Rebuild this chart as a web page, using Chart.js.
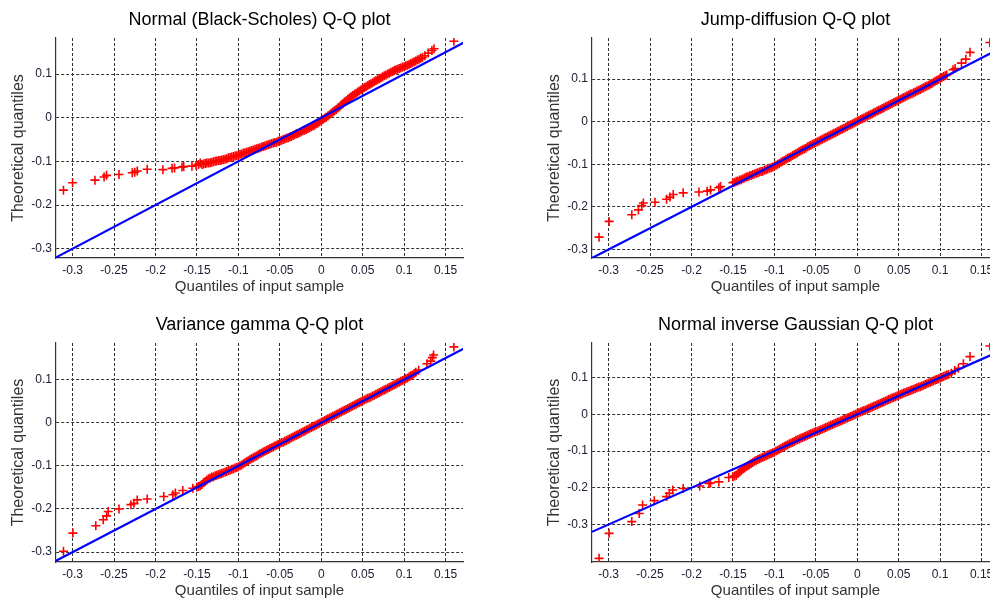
<!DOCTYPE html>
<html>
<head>
<meta charset="utf-8">
<script src="https://cdn.jsdelivr.net/npm/chart.js@4"></script>
<style>
  html, body { margin: 0; padding: 0; background: #fff; }
  #wrap { position: relative; width: 990px; height: 601px; overflow: hidden; }
  canvas { position: absolute; }
</style>
</head>
<body>
<div id="wrap">
  <canvas id="c1" width="495" height="300" style="left:0px;top:0px"></canvas>
  <canvas id="c2" width="495" height="300" style="left:536px;top:0px"></canvas>
  <canvas id="c3" width="495" height="299" style="left:0px;top:305px"></canvas>
  <canvas id="c4" width="495" height="299" style="left:536px;top:305px"></canvas>
</div>
<script>
// tick values shared by all four panels
var xTicks = [-0.3, -0.25, -0.2, -0.15, -0.1, -0.05, 0, 0.05, 0.1, 0.15];
var yTicks = [-0.3, -0.2, -0.1, 0, 0.1];
var xRange = [-0.32, 0.171];
var refLineX = [-0.32, 0.175];
var refLineY = [-0.32, 0.175];

// Normal (Black-Scholes)
var bsSample = [-0.311,-0.300,-0.273,-0.262,-0.259,-0.244,-0.228,-0.225,-0.222,-0.210,-0.191,-0.180,-0.177,-0.168,-0.166,-0.156,-0.151,-0.148,-0.146,
  -0.144,-0.142,-0.140,-0.138,-0.136,-0.134,-0.132,-0.130,-0.128,-0.126,
  -0.124,-0.122,-0.120,-0.118,-0.116,-0.114,-0.112,-0.110,-0.108,-0.106,
  -0.104,-0.102,-0.100,-0.098,-0.096,-0.094,-0.092,-0.090,-0.088,-0.086,
  -0.084,-0.082,-0.080,-0.078,-0.076,-0.074,-0.072,-0.070,-0.068,-0.066,
  -0.064,-0.062,-0.060,-0.058,-0.056,-0.054,-0.052,-0.050,-0.048,-0.046,
  -0.044,-0.042,-0.040,-0.038,-0.036,-0.034,-0.032,-0.030,-0.028,-0.026,
  -0.024,-0.022,-0.020,-0.018,-0.016,-0.014,-0.012,-0.010,-0.008,-0.006,
  -0.004,-0.002,0.000,0.002,0.004,0.006,0.008,0.010,0.012,0.014,
  0.016,0.018,0.020,0.022,0.024,0.026,0.028,0.030,0.032,0.034,
  0.036,0.038,0.040,0.042,0.044,0.046,0.048,0.050,0.052,0.054,
  0.056,0.058,0.060,0.062,0.064,0.066,0.068,0.070,0.072,0.074,
  0.076,0.078,0.080,0.082,0.084,0.086,0.088,0.090,0.092,0.094,
  0.096,0.098,0.100,0.102,0.104,0.106,0.108,0.110,0.112,0.114,
  0.116,0.118,0.120,0.122,
  0.125,0.129,0.1335,0.136,0.160];
var bsTheory = [-0.166,-0.149,-0.143,-0.136,-0.132,-0.130,-0.126,-0.125,-0.122,-0.118,-0.119,-0.116,-0.115,-0.113,-0.112,-0.111,-0.109,-0.107,-0.104,
  -0.107,-0.106,-0.105,-0.104,-0.104,-0.103,-0.102,-0.101,-0.100,-0.099,
  -0.098,-0.098,-0.097,-0.096,-0.095,-0.094,-0.092,-0.091,-0.090,-0.089,
  -0.088,-0.087,-0.086,-0.084,-0.083,-0.081,-0.080,-0.079,-0.078,-0.076,
  -0.075,-0.074,-0.072,-0.071,-0.070,-0.069,-0.067,-0.066,-0.065,-0.063,
  -0.062,-0.061,-0.059,-0.058,-0.057,-0.056,-0.054,-0.053,-0.052,-0.050,
  -0.049,-0.047,-0.046,-0.044,-0.043,-0.041,-0.039,-0.037,-0.036,-0.034,
  -0.032,-0.030,-0.029,-0.027,-0.025,-0.023,-0.021,-0.019,-0.017,-0.014,
  -0.012,-0.009,-0.007,-0.004,-0.001,0.001,0.004,0.007,0.010,0.013,
  0.016,0.019,0.022,0.025,0.029,0.032,0.036,0.039,0.042,0.045,
  0.048,0.051,0.054,0.056,0.059,0.061,0.064,0.066,0.069,0.071,
  0.074,0.076,0.078,0.080,0.083,0.085,0.087,0.089,0.091,0.094,
  0.096,0.098,0.100,0.102,0.104,0.106,0.108,0.110,0.111,0.113,
  0.114,0.116,0.117,0.119,0.120,0.122,0.124,0.126,0.128,0.130,
  0.132,0.134,0.136,0.138,
  0.142,0.148,0.154,0.158,0.175];

// Jump-diffusion
var jdSample = [-0.3115,-0.2994,-0.272,-0.264,-0.260,-0.258,-0.244,-0.230,-0.226,-0.222,-0.210,-0.191,-0.181,-0.177,-0.167,-0.165,
  -0.150,-0.148,-0.146,-0.144,-0.142,-0.140,-0.138,-0.136,-0.134,-0.132,
  -0.130,-0.128,-0.126,-0.124,-0.122,-0.120,-0.118,-0.116,-0.114,-0.112,
  -0.110,-0.108,-0.106,-0.104,-0.102,-0.100,-0.098,-0.096,-0.094,-0.092,
  -0.090,-0.088,-0.086,-0.084,-0.082,-0.080,-0.078,-0.076,-0.074,-0.072,
  -0.070,-0.068,-0.066,-0.064,-0.062,-0.060,-0.058,-0.056,-0.054,-0.052,
  -0.050,-0.048,-0.046,-0.044,-0.042,-0.040,-0.038,-0.036,-0.034,-0.032,
  -0.030,-0.028,-0.026,-0.024,-0.022,-0.020,-0.018,-0.016,-0.014,-0.012,
  -0.010,-0.008,-0.006,-0.004,-0.002,0.000,0.002,0.004,0.006,0.008,
  0.010,0.012,0.014,0.016,0.018,0.020,0.022,0.024,0.026,0.028,
  0.030,0.032,0.034,0.036,0.038,0.040,0.042,0.044,0.046,0.048,
  0.050,0.052,0.054,0.056,0.058,0.060,0.062,0.064,0.066,0.068,
  0.070,0.072,0.074,0.076,0.078,0.080,0.082,0.084,0.086,0.088,
  0.090,0.092,0.094,0.096,0.098,0.100,0.102,0.104,0.106,0.108,
  0.1156,0.118,0.1257,0.131,0.136,0.160];
var jdTheory = [-0.271,-0.234,-0.2185,-0.207,-0.197,-0.191,-0.189,-0.182,-0.177,-0.171,-0.167,-0.165,-0.163,-0.160,-0.155,-0.152,
  -0.143,-0.142,-0.140,-0.139,-0.137,-0.136,-0.134,-0.132,-0.130,-0.129,
  -0.127,-0.126,-0.124,-0.123,-0.121,-0.120,-0.118,-0.117,-0.116,-0.114,
  -0.113,-0.111,-0.109,-0.108,-0.106,-0.104,-0.102,-0.100,-0.098,-0.095,
  -0.093,-0.091,-0.088,-0.086,-0.084,-0.082,-0.079,-0.077,-0.075,-0.073,
  -0.070,-0.068,-0.066,-0.064,-0.062,-0.059,-0.057,-0.055,-0.053,-0.051,
  -0.049,-0.047,-0.045,-0.043,-0.041,-0.039,-0.037,-0.035,-0.033,-0.031,
  -0.029,-0.027,-0.025,-0.023,-0.021,-0.019,-0.017,-0.015,-0.013,-0.011,
  -0.009,-0.007,-0.005,-0.003,-0.001,0.001,0.003,0.005,0.007,0.009,
  0.011,0.013,0.015,0.017,0.019,0.021,0.023,0.025,0.027,0.029,
  0.031,0.033,0.035,0.037,0.039,0.041,0.043,0.045,0.047,0.049,
  0.051,0.053,0.055,0.057,0.059,0.061,0.063,0.065,0.066,0.068,
  0.070,0.072,0.074,0.076,0.078,0.080,0.082,0.084,0.086,0.088,
  0.090,0.093,0.095,0.097,0.099,0.102,0.104,0.106,0.108,0.110,
  0.122,0.125,0.1376,0.147,0.163,0.186];

// Variance gamma
var vgSample = [-0.311,-0.2996,-0.272,-0.263,-0.259,-0.257,-0.244,-0.2296,-0.226,-0.222,-0.210,-0.190,-0.179,-0.176,-0.167,-0.155,
  -0.150,-0.148,-0.146,-0.144,-0.142,-0.140,-0.138,-0.136,-0.134,-0.132,
  -0.130,-0.128,-0.126,-0.124,-0.122,-0.120,-0.118,-0.116,-0.114,-0.112,
  -0.110,-0.108,-0.106,-0.104,-0.102,-0.100,-0.098,-0.096,-0.094,-0.092,
  -0.090,-0.088,-0.086,-0.084,-0.082,-0.080,-0.078,-0.076,-0.074,-0.072,
  -0.070,-0.068,-0.066,-0.064,-0.062,-0.060,-0.058,-0.056,-0.054,-0.052,
  -0.050,-0.048,-0.046,-0.044,-0.042,-0.040,-0.038,-0.036,-0.034,-0.032,
  -0.030,-0.028,-0.026,-0.024,-0.022,-0.020,-0.018,-0.016,-0.014,-0.012,
  -0.010,-0.008,-0.006,-0.004,-0.002,0.000,0.002,0.004,0.006,0.008,
  0.010,0.012,0.014,0.016,0.018,0.020,0.022,0.024,0.026,0.028,
  0.030,0.032,0.034,0.036,0.038,0.040,0.042,0.044,0.046,0.048,
  0.050,0.052,0.054,0.056,0.058,0.060,0.062,0.064,0.066,0.068,
  0.070,0.072,0.074,0.076,0.078,0.080,0.082,0.084,0.086,0.088,
  0.090,0.092,0.094,0.096,0.098,0.100,0.102,0.104,0.106,0.108,
  0.110,0.112,0.114,
  0.1175,0.1275,0.132,0.134,0.1355,0.160];
var vgTheory = [-0.298,-0.256,-0.239,-0.225,-0.216,-0.206,-0.200,-0.190,-0.187,-0.179,-0.177,-0.171,-0.167,-0.163,-0.157,-0.152,
  -0.149,-0.148,-0.146,-0.143,-0.139,-0.136,-0.133,-0.130,-0.128,-0.126,
  -0.125,-0.123,-0.122,-0.120,-0.119,-0.1175,-0.116,-0.114,-0.113,-0.111,
  -0.110,-0.108,-0.107,-0.105,-0.104,-0.102,-0.100,-0.098,-0.095,-0.093,
  -0.090,-0.088,-0.085,-0.083,-0.081,-0.079,-0.077,-0.074,-0.072,-0.070,
  -0.068,-0.066,-0.064,-0.062,-0.060,-0.058,-0.056,-0.054,-0.052,-0.050,
  -0.048,-0.046,-0.045,-0.043,-0.041,-0.039,-0.037,-0.035,-0.033,-0.031,
  -0.029,-0.027,-0.025,-0.023,-0.021,-0.019,-0.017,-0.015,-0.013,-0.011,
  -0.009,-0.007,-0.005,-0.003,-0.001,0.001,0.003,0.005,0.007,0.009,
  0.011,0.013,0.015,0.017,0.019,0.021,0.023,0.025,0.027,0.029,
  0.031,0.033,0.035,0.037,0.039,0.041,0.043,0.045,0.047,0.049,
  0.051,0.053,0.055,0.057,0.058,0.060,0.062,0.064,0.066,0.068,
  0.070,0.072,0.074,0.076,0.078,0.080,0.082,0.084,0.086,0.088,
  0.090,0.092,0.094,0.096,0.098,0.100,0.102,0.104,0.107,0.109,
  0.111,0.114,0.117,
  0.122,0.137,0.143,0.151,0.157,0.176];

// Normal inverse Gaussian
var nigSample = [-0.3115,-0.2994,-0.272,-0.263,-0.259,-0.245,-0.230,-0.2267,-0.2226,-0.210,-0.190,-0.179,-0.177,-0.167,-0.155,
  -0.150,-0.148,-0.146,-0.144,-0.142,-0.140,-0.138,-0.136,-0.134,-0.132,
  -0.130,-0.128,-0.126,-0.124,-0.122,-0.120,-0.118,-0.116,-0.114,-0.112,
  -0.110,-0.108,-0.106,-0.104,-0.102,-0.100,-0.098,-0.096,-0.094,-0.092,
  -0.090,-0.088,-0.086,-0.084,-0.082,-0.080,-0.078,-0.076,-0.074,-0.072,
  -0.070,-0.068,-0.066,-0.064,-0.062,-0.060,-0.058,-0.056,-0.054,-0.052,
  -0.050,-0.048,-0.046,-0.044,-0.042,-0.040,-0.038,-0.036,-0.034,-0.032,
  -0.030,-0.028,-0.026,-0.024,-0.022,-0.020,-0.018,-0.016,-0.014,-0.012,
  -0.010,-0.008,-0.006,-0.004,-0.002,0.000,0.002,0.004,0.006,0.008,
  0.010,0.012,0.014,0.016,0.018,0.020,0.022,0.024,0.026,0.028,
  0.030,0.032,0.034,0.036,0.038,0.040,0.042,0.044,0.046,0.048,
  0.050,0.052,0.054,0.056,0.058,0.060,0.062,0.064,0.066,0.068,
  0.070,0.072,0.074,0.076,0.078,0.080,0.082,0.084,0.086,0.088,
  0.090,0.092,0.094,0.096,0.098,0.100,0.102,0.104,0.106,0.108,
  0.110,
  0.1135,0.1176,0.122,0.128,0.136,0.160];
var nigTheory = [-0.392,-0.324,-0.292,-0.270,-0.247,-0.235,-0.224,-0.215,-0.206,-0.202,-0.195,-0.188,-0.187,-0.184,-0.172,
  -0.170,-0.168,-0.166,-0.161,-0.157,-0.153,-0.149,-0.146,-0.143,-0.140,
  -0.137,-0.134,-0.131,-0.128,-0.126,-0.123,-0.121,-0.119,-0.117,-0.115,
  -0.113,-0.111,-0.109,-0.107,-0.105,-0.103,-0.100,-0.098,-0.095,-0.093,
  -0.090,-0.088,-0.085,-0.083,-0.080,-0.078,-0.076,-0.074,-0.071,-0.069,
  -0.067,-0.065,-0.063,-0.061,-0.059,-0.057,-0.055,-0.053,-0.051,-0.049,
  -0.047,-0.046,-0.044,-0.042,-0.040,-0.038,-0.036,-0.034,-0.032,-0.030,
  -0.028,-0.026,-0.024,-0.022,-0.020,-0.018,-0.016,-0.014,-0.012,-0.010,
  -0.008,-0.006,-0.004,-0.002,0.000,0.002,0.004,0.006,0.008,0.010,
  0.012,0.014,0.016,0.018,0.020,0.022,0.024,0.026,0.028,0.030,
  0.032,0.034,0.036,0.038,0.040,0.042,0.044,0.046,0.048,0.050,
  0.052,0.054,0.056,0.058,0.059,0.061,0.063,0.065,0.067,0.068,
  0.070,0.072,0.074,0.075,0.077,0.079,0.081,0.083,0.085,0.087,
  0.089,0.091,0.093,0.095,0.097,0.099,0.101,0.103,0.105,0.107,
  0.108,
  0.112,0.119,0.125,0.1375,0.157,0.186];

var FONT = "'Liberation Sans', Arial, Helvetica, sans-serif";
Chart.defaults.font.family = FONT;

function pairs(xs, ys) {
  return xs.map(function(v, i) { return {x: v, y: ys[i]}; });
}

function qqChart(id, title, sample, theory, yMin, yMax) {
  new Chart(document.getElementById(id), {
    type: 'scatter',
    data: {
      datasets: [
        {
          // reference line, drawn on top of the markers
          data: pairs(refLineX, refLineY),
          showLine: true,
          borderColor: '#0000ff',
          borderWidth: 2.2,
          pointRadius: 0,
          order: 0
        },
        {
          data: pairs(sample, theory),
          pointStyle: 'cross',
          pointRadius: 4.5,
          borderColor: '#ff0000',
          borderWidth: 1.6,
          order: 1
        }
      ]
    },
    options: {
      responsive: false,
      animation: false,
      layout: { padding: { left: 0, right: 32, top: 0, bottom: 0 } },
      plugins: {
        legend: { display: false },
        tooltip: { enabled: false },
        title: {
          display: true,
          text: title,
          color: '#000',
          fullSize: false,
          font: { size: 18, weight: 'normal' },
          padding: { top: 9.7, bottom: 6.7 }
        }
      },
      scales: {
        x: {
          type: 'linear',
          min: xRange[0],
          max: xRange[1],
          afterBuildTicks: function(s) { s.ticks = xTicks.map(function(v) { return {value: v}; }); },
          afterFit: function(s) { s.height = 42; },
          ticks: {
            color: '#202035',
            font: { size: 12 },
            padding: 5,
            maxRotation: 0,
            autoSkip: false,
            callback: function(v) { return String(v); }
          },
          grid: { color: '#333', lineWidth: 1, drawTicks: false },
          border: { display: true, color: '#333', width: 1.2, dash: [3, 2] },
          title: {
            display: true,
            text: 'Quantiles of input sample',
            color: '#333',
            font: { size: 15 },
            padding: { top: 0, bottom: 4 }
          }
        },
        y: {
          type: 'linear',
          min: yMin,
          max: yMax,
          afterBuildTicks: function(s) { s.ticks = yTicks.map(function(v) { return {value: v}; }); },
          afterFit: function(s) { s.width = 56; },
          ticks: {
            color: '#202035',
            font: { size: 12 },
            padding: 4,
            callback: function(v) { return String(v); }
          },
          grid: { color: '#333', lineWidth: 1, drawTicks: false },
          border: { display: true, color: '#333', width: 1.2, dash: [3, 2] },
          title: {
            display: true,
            text: 'Theoretical quantiles',
            color: '#333',
            font: { size: 16 },
            padding: { top: 8.9, bottom: 0 }
          }
        }
      }
    }
  });
}

qqChart('c1', 'Normal (Black-Scholes) Q-Q plot', bsSample, bsTheory, -0.3214, 0.1826);
qqChart('c2', 'Jump-diffusion Q-Q plot', jdSample, jdTheory, -0.320, 0.1967);
qqChart('c3', 'Variance gamma Q-Q plot', vgSample, vgTheory, -0.323, 0.185);
qqChart('c4', 'Normal inverse Gaussian Q-Q plot', nigSample, nigTheory, -0.402, 0.194);
</script>
</body>
</html>
